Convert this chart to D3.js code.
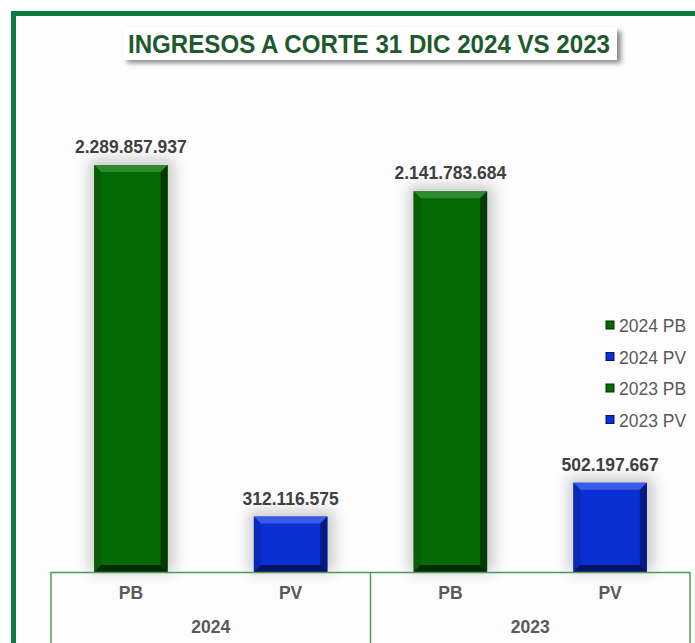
<!DOCTYPE html>
<html>
<head>
<meta charset="utf-8">
<script src="https://cdn.jsdelivr.net/npm/d3@7"></script>
<style>
  body { margin: 0; background: #fff; }
  svg { display: block; font-family: "Liberation Sans", Arial, sans-serif; }
</style>
</head>
<body>
<div id="chart"></div>
<script>
// Data
const years = ['2024', '2023'];
const subCats = ['PB', 'PV'];
const values = [2289857937, 312116575, 2141783684, 502197667];
const seriesNames = ['2024 PB', '2024 PV', '2023 PB', '2023 PV'];
const labels = ['2.289.857.937', '312.116.575', '2.141.783.684', '502.197.667'];

const W = 695, H = 643;
const svg = d3.select('#chart').append('svg')
    .attr('width', W)
    .attr('height', H);

const defs = svg.append('defs');
const blur = defs.append('filter').attr('id', 'soft')
    .attr('x', '-50%').attr('y', '-20%').attr('width', '200%').attr('height', '140%');
blur.append('feGaussianBlur').attr('stdDeviation', 7);

const titleShadow = defs.append('filter').attr('id', 'tshadow')
    .attr('x', '-10%').attr('y', '-30%').attr('width', '120%').attr('height', '170%');
titleShadow.append('feGaussianBlur').attr('stdDeviation', 2.5);

// Colours per bar (main, top, left, right, bottom)
const palette = {
    PB: { main: '#046a04', top: '#2f8a2f', left: '#0a5e0a', right: '#023a02', bottom: '#012c01' },
    PV: { main: '#0a30d4', top: '#3a5ae8', left: '#0a28b8', right: '#061a80', bottom: '#041268' }
};

// Frame
svg.append('rect').attr('x', 0).attr('y', 0).attr('width', W).attr('height', H).attr('fill', '#fff');
svg.append('rect').attr('x', 16).attr('y', 16).attr('width', W - 16).attr('height', H - 16).attr('fill', '#fdfdfd');
svg.append('rect').attr('x', 11).attr('y', 11).attr('width', W - 11).attr('height', 5).attr('fill', '#0b7a3e');
svg.append('rect').attr('x', 11).attr('y', 11).attr('width', 5).attr('height', H - 11).attr('fill', '#0b7a3e');

// Title
svg.append('rect')
    .attr('x', 127).attr('y', 31).attr('width', 494).attr('height', 32)
    .attr('fill', '#888').attr('filter', 'url(#tshadow)');
svg.append('rect')
    .attr('x', 123).attr('y', 27).attr('width', 494).attr('height', 33)
    .attr('fill', '#fff');
svg.append('text')
    .attr('x', 369).attr('y', 53)
    .attr('text-anchor', 'middle')
    .attr('font-family', '"Liberation Sans Narrow", "Liberation Sans", Arial, sans-serif')
    .attr('font-size', 25)
    .attr('font-weight', 'bold')
    .attr('fill', '#1f5a2e')
    .attr('textLength', 482)
    .attr('lengthAdjust', 'spacingAndGlyphs')
    .text('INGRESOS A CORTE 31 DIC 2024 VS 2023');

// Scales
const margin = { left: 51, right: 5, bottom: 71 };
const baseY = H - margin.bottom;

const x0 = d3.scaleBand().domain(years).range([margin.left, W - margin.right]);
const x1 = d3.scaleBand().domain(subCats).range([0, x0.bandwidth()]).paddingInner(0.54).paddingOuter(0.27);
const y = d3.scaleLinear().domain([0, 2289857937]).range([baseY, 165]);

const bars = values.map((v, i) => {
    const yr = years[Math.floor(i / 2)];
    const sc = subCats[i % 2];
    return { v, yr, sc, label: labels[i], x: x0(yr) + x1(sc), w: x1.bandwidth(), top: y(v) };
});

// Soft shadows behind bars
svg.selectAll('.shadow')
    .data(bars)
    .enter()
    .append('rect')
    .attr('class', 'shadow')
    .attr('x', d => d.x - 5)
    .attr('y', d => d.top - 6)
    .attr('width', d => d.w + 12)
    .attr('height', d => baseY - d.top + 6)
    .attr('fill', '#9a9a9a')
    .attr('opacity', 0.5)
    .attr('filter', 'url(#soft)');

// Bevelled bars
const bev = 7;
const g = svg.selectAll('.bar').data(bars).enter().append('g').attr('class', 'bar');

g.append('rect')
    .attr('x', d => d.x).attr('y', d => d.top)
    .attr('width', d => d.w).attr('height', d => baseY - d.top)
    .attr('fill', d => palette[d.sc].main);

const poly = pts => pts.map(p => p.join(',')).join(' ');
g.append('polygon') // top
    .attr('points', d => poly([[d.x, d.top], [d.x + d.w, d.top], [d.x + d.w - bev, d.top + bev], [d.x + bev, d.top + bev]]))
    .attr('fill', d => palette[d.sc].top);
g.append('polygon') // left
    .attr('points', d => poly([[d.x, d.top], [d.x + bev, d.top + bev], [d.x + bev, baseY - bev], [d.x, baseY]]))
    .attr('fill', d => palette[d.sc].left);
g.append('polygon') // right
    .attr('points', d => poly([[d.x + d.w, d.top], [d.x + d.w, baseY], [d.x + d.w - bev, baseY - bev], [d.x + d.w - bev, d.top + bev]]))
    .attr('fill', d => palette[d.sc].right);
g.append('polygon') // bottom
    .attr('points', d => poly([[d.x, baseY], [d.x + bev, baseY - bev], [d.x + d.w - bev, baseY - bev], [d.x + d.w, baseY]]))
    .attr('fill', d => palette[d.sc].bottom);

// Value labels
svg.selectAll('.val')
    .data(bars)
    .enter()
    .append('text')
    .attr('class', 'val')
    .attr('x', d => d.x + d.w / 2)
    .attr('y', d => d.top - 12)
    .attr('text-anchor', 'middle')
    .attr('font-size', 17.5)
    .attr('font-weight', 'bold')
    .attr('fill', '#404040')
    .text(d => d.label);

// Category axis (grouped)
const axisColor = '#4f9a5e';
svg.append('line')
    .attr('x1', margin.left).attr('x2', W - margin.right)
    .attr('y1', baseY + 0.5).attr('y2', baseY + 0.5)
    .attr('stroke', axisColor).attr('stroke-width', 1.5);

const edges = [x0(years[0]), x0(years[1]), x0(years[1]) + x0.bandwidth()];
svg.selectAll('.sep')
    .data(edges)
    .enter()
    .append('line')
    .attr('x1', d => d).attr('x2', d => d)
    .attr('y1', baseY).attr('y2', H)
    .attr('stroke', axisColor).attr('stroke-width', 1.5);

svg.selectAll('.sub')
    .data(bars)
    .enter()
    .append('text')
    .attr('x', d => d.x + d.w / 2)
    .attr('y', baseY + 27)
    .attr('text-anchor', 'middle')
    .attr('font-size', 17.5)
    .attr('font-weight', 'bold')
    .attr('fill', '#595959')
    .text(d => d.sc);

svg.selectAll('.yr')
    .data(years)
    .enter()
    .append('text')
    .attr('x', d => x0(d) + x0.bandwidth() / 2)
    .attr('y', baseY + 61)
    .attr('text-anchor', 'middle')
    .attr('font-size', 17.5)
    .attr('font-weight', 'bold')
    .attr('fill', '#595959')
    .text(d => d);

// Legend
const legend = svg.append('g').attr('transform', 'translate(606, 326)');
seriesNames.forEach((name, i) => {
    const sc = subCats[i % 2];
    const row = legend.append('g').attr('transform', `translate(0, ${i * 31.5})`);
    row.append('rect')
        .attr('x', 0).attr('y', -5).attr('width', 8).attr('height', 8)
        .attr('fill', palette[sc].main)
        .attr('stroke', palette[sc].bottom).attr('stroke-width', 1);
    row.append('text')
        .attr('x', 13).attr('y', 6)
        .attr('font-size', 17.5)
        .attr('fill', '#595959')
        .text(name);
});
</script>
</body>
</html>
